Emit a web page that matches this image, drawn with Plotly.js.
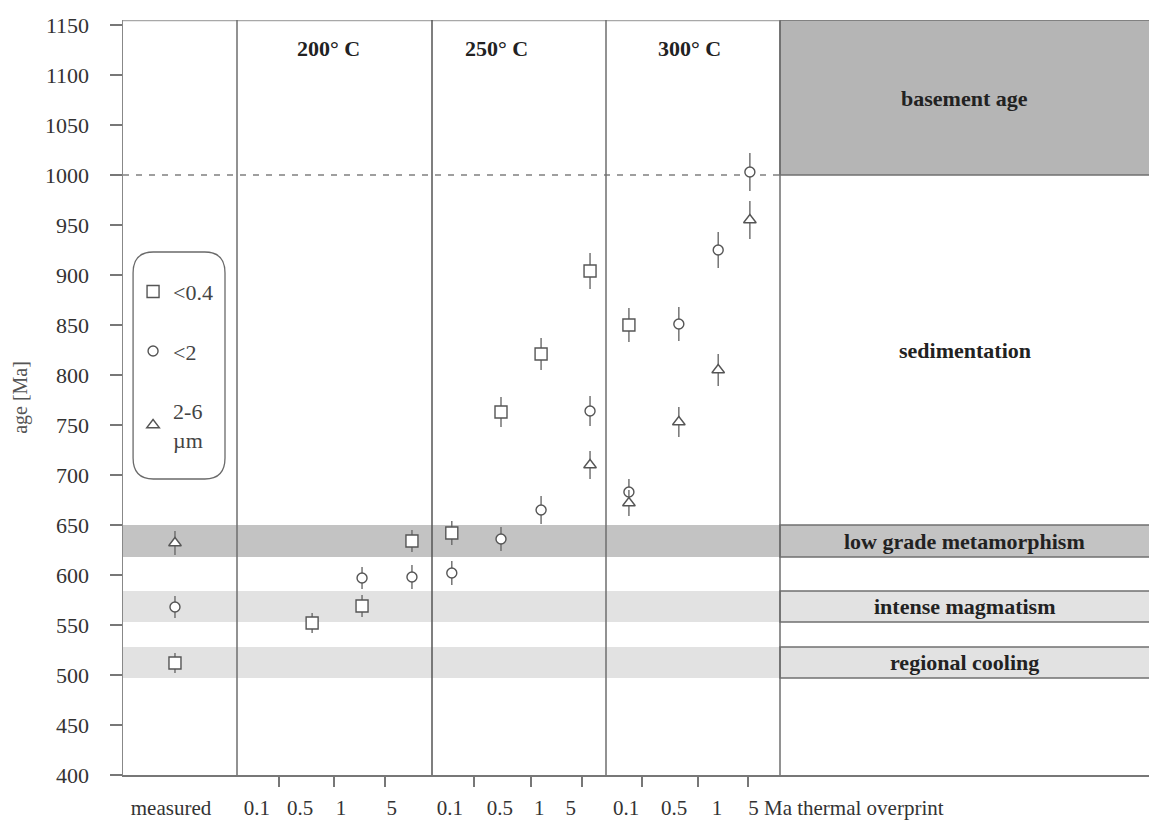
<!DOCTYPE html>
<html>
<head>
<meta charset="utf-8">
<script src="https://cdn.plot.ly/plotly-3.0.1.min.js"></script>
<style>html,body{margin:0;padding:0;background:#fff;}#chart{width:1149px;height:827px;}</style>
</head>
<body>
<div id="chart"></div>
<script>
// ---- data ----
const catLabels = ['measured','0.1','0.5','1','5','0.1','0.5','1','5','0.1','0.5','1','5 Ma thermal overprint'];
const temperatures = ['200° C','250° C','300° C'];
const seriesNames = ['<0.4','<2','2-6<br>µm'];
// ages [Ma] per category (null = no measurement)
const ageSmall  = [512, null, 552, 569, 634, 642, 763, 821, 904, 850, null, null, null];
const errSmall  = [10,  null, 10,  11,  11,  12,  15,  16,  18,  17,  null, null, null];
const ageMedium = [568, null, null, 597, 598, 602, 636, 665, 764, 683, 851, 925, 1003];
const errMedium = [11,  null, null, 11,  12,  12,  12,  14,  15,  13,  17,  18,  19];
const ageLarge  = [632, null, null, null, null, null, null, null, 710, 672, 753, 805, 955];
const errLarge  = [12,  null, null, null, null, null, null, null, 14,  13,  15,  16,  19];
const yTicks = [400,450,500,550,600,650,700,750,800,850,900,950,1000,1050,1100,1150];
// geological events [Ma]
const eventNames = ['basement age','sedimentation','low grade metamorphism','intense magmatism','regional cooling'];
const eventFrom  = [1000, 650, 618, 553, 497];
const eventTo    = [1155, 1000, 650, 584, 528];
const basementAge = 1000;

// ---- layout positions (axis units) ----
const catPos   = [1.083, 2.9, 3.94, 4.98, 6.02, 6.85, 7.875, 8.71, 9.73, 10.54, 11.58, 12.40, 13.06];
const labelPos = [1.0, 2.79, 3.69, 4.54, 5.60, 6.81, 7.85, 8.67, 9.33, 10.48, 11.48, 12.375, 15.06];
const tickPos  = [3.25, 4.40, 5.46, 7.31, 8.5, 9.56, 10.81, 11.98, 13.02];
const dividers = [2.375, 6.4375, 10.0625, 13.6875];
const tempPos  = [4.29, 7.79, 11.81];
const xMax = 21.375, yMin = 400, yMax = 1155;
const panelL = dividers[3], panelMid = (dividers[3] + xMax) / 2;

const FONT = '"Liberation Serif","Times New Roman",serif';

function series(name, ages, errs, symbol, size, grp) {
  return {
    type: 'scatter', mode: 'markers', name: name, legendgroup: grp,
    x: catPos, y: ages,
    error_y: {type: 'data', array: errs, visible: true, color: '#6a6a6a', thickness: 1.4, width: 0},
    marker: {symbol: symbol, size: size, color: 'white', line: {color: '#555', width: 1.4}},
    cliponaxis: false, hoverinfo: 'x+y'
  };
}

const traces = [
  series(seriesNames[0], ageSmall, errSmall, 'square', 12, 'a'),
  series(seriesNames[1], ageMedium, errMedium, 'circle', 10, 'b'),
  series(seriesNames[2], ageLarge, errLarge, 'triangle-up', 11, 'c')
];

const shapes = [];
// bands in plot region
const bandFill = ['#b5b5b5', null, '#c3c3c3', '#e2e2e2', '#e2e2e2'];
for (let i = 2; i < 5; i++) {
  shapes.push({type:'rect', layer:'below', xref:'x', yref:'y', x0:0, x1:panelL, y0:eventFrom[i], y1:eventTo[i], fillcolor:bandFill[i], line:{width:0}});
}
// right panel boxes
[0,2,3,4].forEach(i => {
  shapes.push({type:'rect', layer:'below', xref:'x', yref:'y', x0:panelL, x1:xMax+1, y0:eventFrom[i], y1:eventTo[i], fillcolor:bandFill[i], line:{color:'#707070', width:1.6}});
});
// dashed basement line
shapes.push({type:'line', layer:'below', xref:'x', yref:'y', x0:0, x1:panelL, y0:basementAge, y1:basementAge, line:{color:'#808080', width:1.5, dash:'6px,7px'}});
// top border
shapes.push({type:'line', layer:'below', xref:'x', yref:'y', x0:0, x1:panelL, y0:yMax, y1:yMax, line:{color:'#a8a8a8', width:2.5}});
// vertical dividers
dividers.forEach((d, k) => {
  shapes.push({type:'line', layer:'below', xref:'x', yref:'y', x0:d, x1:d, y0:yMin, y1:yMax, line:{color: k===1 ? '#555' : '#6e6e6e', width:1.5}});
});
// legend box (rounded)
const lx0 = 0.21, lx1 = 2.125, ly0 = 696, ly1 = 923, rx = 0.42, ry = 21;
shapes.push({type:'path', layer:'below', xref:'x', yref:'y',
  path: `M ${lx0+rx} ${ly1} L ${lx1-rx} ${ly1} Q ${lx1} ${ly1} ${lx1} ${ly1-ry} L ${lx1} ${ly0+ry} Q ${lx1} ${ly0} ${lx1-rx} ${ly0} L ${lx0+rx} ${ly0} Q ${lx0} ${ly0} ${lx0} ${ly0+ry} L ${lx0} ${ly1-ry} Q ${lx0} ${ly1} ${lx0+rx} ${ly1} Z`,
  line:{color:'#6a6a6a', width:1.3}, fillcolor:'rgba(0,0,0,0)'});

const annotations = [];
temperatures.forEach((t, i) => {
  annotations.push({xref:'x', yref:'y', x:tempPos[i], y:1127, text:t, showarrow:false,
    font:{family:FONT, size:22, color:'#222', weight:'bold'}});
});
const eventLabelY = [1077, 825, 634, 568.5, 512.5];
eventNames.forEach((n, i) => {
  annotations.push({xref:'x', yref:'y', x:panelMid, y:eventLabelY[i], text:n, showarrow:false,
    font:{family:FONT, size:22, color:'#222', weight:'bold'}});
});

const layout = {
  width: 1149, height: 827,
  margin: {l:123, r:0, t:20, b:52, pad:0},
  paper_bgcolor: 'white', plot_bgcolor: 'white',
  font: {family: FONT, color: '#444'},
  showlegend: true,
  legend: {x: 0.0098, y: 0.668, xanchor: 'left', yanchor: 'top', bgcolor: 'rgba(0,0,0,0)', borderwidth: 0,
           font: {family: FONT, size: 22, color: '#444'}, tracegroupgap: 28, itemwidth: 30, itemclick: false},
  xaxis: {
    range: [0, xMax], showgrid: false, zeroline: false, showline: true, linecolor: '#777', linewidth: 1.5,
    tickmode: 'array', tickvals: labelPos, ticktext: catLabels, ticks: '', ticklabelstandoff: 13,
    tickfont: {family: FONT, size: 21, color: '#333'},
    minor: {tickmode: 'array', tickvals: tickPos, ticks: 'outside', ticklen: 10, tickcolor: '#777', tickwidth: 1.5, showgrid: false}
  },
  yaxis: {
    range: [yMin, yMax], tickmode: 'array', tickvals: yTicks, ticks: 'outside', ticklen: 12, tickcolor: '#777', tickwidth: 1.5,
    showline: true, linecolor: '#888', linewidth: 1.5, showgrid: false, zeroline: false,
    tickfont: {family: FONT, size: 22, color: '#333'}, ticklabelstandoff: 16,
    title: {text: 'age [Ma]', font: {family: FONT, size: 20, color: '#555'}, standoff: 12}
  },
  shapes: shapes,
  annotations: annotations
};

Plotly.newPlot('chart', traces, layout, {displayModeBar: false, staticPlot: true});
</script>
</body>
</html>
